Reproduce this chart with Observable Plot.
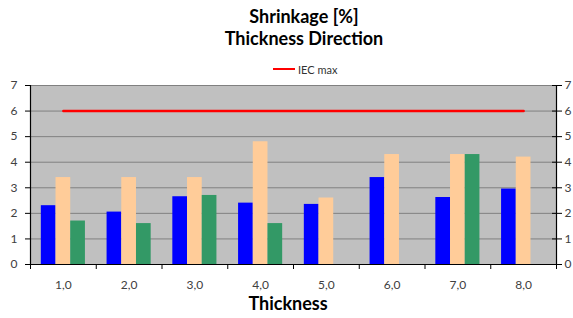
<!DOCTYPE html>
<html>
<head>
<meta charset="utf-8">
<script src="https://cdn.jsdelivr.net/npm/d3@7"></script>
<script src="https://cdn.jsdelivr.net/npm/@observablehq/plot@0.6"></script>
<style>
  body { margin: 0; background: #fff; }
  #wrap { position: relative; width: 573px; height: 318px; overflow: hidden; font-family: Lato, "Open Sans", sans-serif; }
  #chart { position: absolute; left: 0; top: 0; }
  #title { position: absolute; left: 204px; width: 200px; top: 5px; text-align: center; font-weight: bold; font-size: 18px; line-height: 22px; color: #000; }
  #legend { position: absolute; left: 273px; top: 61px; font-size: 11px; color: #333; display: flex; align-items: center; height: 16px; }
  #legend .sw { display: inline-block; width: 22px; height: 2px; background: #FF0000; margin-right: 3px; }
  #xlabel { position: absolute; left: 188px; width: 200px; top: 292px; text-align: center; font-weight: bold; font-size: 18px; line-height: 22px; color: #000; }
</style>
</head>
<body>
<div id="wrap">
  <div id="chart"></div>
  <div id="title">Shrinkage [%]<br>Thickness Direction</div>
  <div id="legend"><span class="sw"></span><span>IEC max</span></div>
  <div id="xlabel">Thickness</div>
</div>
<script>
// ---- data ----
const categories = ["1,0", "2,0", "3,0", "4,0", "5,0", "6,0", "7,0", "8,0"];
const seriesBlue  = [2.3, 2.05, 2.65, 2.4, 2.35, 3.4, 2.62, 2.95];
const seriesPeach = [3.4, 3.4, 3.4, 4.8, 2.6, 4.3, 4.3, 4.2];
const seriesGreen = [1.7, 1.6, 2.7, 1.6, null, null, 4.3, null];
const iecMax      = [6, 6, 6, 6, 6, 6, 6, 6];
const yTicks = [0, 1, 2, 3, 4, 5, 6, 7];

// ---- layout ----
const W = 573, H = 318;
const mL = 30, mR = 17, mT = 85, mB = 54;
const step = (W - mL - mR) / categories.length;
const padInner = 0.7764;
const bw = step * (1 - padInner);

const rows = categories.map((c, i) => ({
  cat: c, blue: seriesBlue[i], peach: seriesPeach[i], green: seriesGreen[i], iec: iecMax[i]
}));

const fmt = d => String(d);

const chart = Plot.plot({
  width: W, height: H,
  marginLeft: mL, marginRight: mR, marginTop: mT, marginBottom: mB,
  style: { fontFamily: "Lato, 'Open Sans', sans-serif", fontSize: "11px", color: "#404040", background: "transparent", overflow: "visible" },
  x: { domain: categories, paddingInner: padInner, paddingOuter: padInner / 2, round: false, label: null, axis: null },
  y: { domain: [0, 7], label: null, axis: null },
  marks: [
    Plot.frame({ fill: "#C0C0C0", stroke: null }),
    Plot.ruleY(yTicks.filter(t => t > 0), { stroke: "#808080", strokeWidth: 1 }),
    Plot.barY(rows.filter(d => d.blue != null), { x: "cat", y: "blue", fill: "#0000FF", dx: -bw }),
    Plot.barY(rows.filter(d => d.peach != null), { x: "cat", y: "peach", fill: "#FFCC99" }),
    Plot.barY(rows.filter(d => d.green != null), { x: "cat", y: "green", fill: "#339966", dx: bw }),
    Plot.lineY(rows, { x: "cat", y: "iec", stroke: "#FF0000", strokeWidth: 2.5 }),
    Plot.ruleY([0], { stroke: "#000", strokeWidth: 1.2 }),
    Plot.ruleX([categories[0]], { dx: -step / 2, stroke: "#000", strokeWidth: 1.2 }),
    Plot.ruleX([categories[categories.length - 1]], { dx: step / 2, stroke: "#000", strokeWidth: 1.2 }),
    Plot.axisY({ anchor: "left", ticks: yTicks, tickFormat: fmt, tickSize: 5, tickPadding: 8, label: null, stroke: "#000", fill: "#404040", fontSize: 12 }),
    Plot.axisY({ anchor: "right", ticks: yTicks, tickFormat: fmt, tickSize: 5, tickPadding: 3, label: null, stroke: "#000", fill: "#404040", fontSize: 12 }),
    Plot.axisY({ anchor: "right", ticks: yTicks, tickSize: 5, dx: -5, tickFormat: () => "", label: null, stroke: "#000" }),
    Plot.axisX({ anchor: "bottom", ticks: categories, tickSize: 0, tickPadding: 16, label: null, fill: "#404040", fontSize: 12 }),
    Plot.axisX({ anchor: "bottom", ticks: categories, tickSize: 5, dx: step / 2, tickFormat: () => "", label: null, stroke: "#000" }),
    Plot.axisX({ anchor: "bottom", ticks: [categories[0]], tickSize: 5, dx: -step / 2, tickFormat: () => "", label: null, stroke: "#000" })
  ]
});
document.getElementById("chart").appendChild(chart);
</script>
</body>
</html>
